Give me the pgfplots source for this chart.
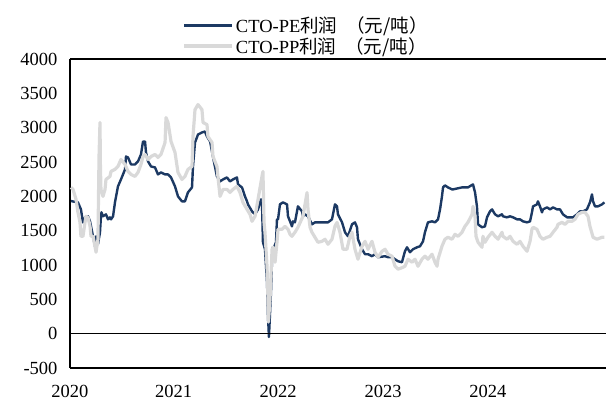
\documentclass[border=0pt]{standalone}
\usepackage{pgfplots}
\usepackage{pgfplotstable}
\pgfplotsset{compat=1.18}
\usepackage{fontspec}
\setmainfont{Liberation Serif}
\newfontfamily\cjk{Noto Sans CJK SC}
\definecolor{navy}{RGB}{28,57,99}
\definecolor{lgray}{RGB}{217,217,217}

\pgfplotstableread{
x y
2020.000 1931
2020.065 1912
2020.093 1810
2020.112 1620
2020.131 1690
2020.159 1709
2020.178 1636
2020.187 1563
2020.206 1418
2020.224 1273
2020.234 1418
2020.252 1302
2020.271 1476
2020.280 1709
2020.285 1767
2020.299 1709
2020.327 1738
2020.346 1665
2020.364 1694
2020.374 1665
2020.393 1709
2020.411 1912
2020.439 2145
2020.467 2246
2020.505 2392
2020.514 2580
2020.533 2566
2020.561 2464
2020.598 2464
2020.626 2508
2020.654 2610
2020.673 2798
2020.692 2798
2020.701 2639
2020.720 2508
2020.748 2435
2020.785 2421
2020.813 2319
2020.841 2348
2020.879 2319
2020.907 2319
2020.935 2275
2020.972 2145
2021.000 1999
2021.037 1927
2021.065 1927
2021.093 2057
2021.131 2130
2021.140 2435
2021.159 2784
2021.187 2900
2021.224 2930
2021.252 2944
2021.271 2871
2021.300 2800
2021.330 2550
2021.364 2290
2021.393 2217
2021.421 2246
2021.458 2275
2021.486 2217
2021.514 2246
2021.551 2275
2021.561 2174
2021.598 2130
2021.626 1999
2021.645 1927
2021.654 1883
2021.692 1781
2021.720 1738
2021.748 1810
2021.776 1956
2021.785 1912
2021.794 1331
2021.813 1229
2021.832 750
2021.841 256
2021.850 -49
2021.869 605
2021.879 1084
2021.885 1258
2021.897 1258
2021.916 1331
2021.925 1665
2021.935 1665
2021.953 1883
2021.981 1912
2022.019 1883
2022.028 1709
2022.047 1636
2022.065 1563
2022.075 1636
2022.093 1621
2022.121 1854
2022.159 1781
2022.168 1709
2022.187 1738
2022.215 1709
2022.252 1592
2022.280 1621
2022.346 1621
2022.402 1621
2022.439 1665
2022.467 1883
2022.486 1854
2022.495 1738
2022.533 1621
2022.561 1476
2022.589 1418
2022.626 1592
2022.654 1621
2022.673 1549
2022.682 1375
2022.720 1229
2022.748 1157
2022.776 1157
2022.813 1128
2022.841 1157
2022.869 1113
2022.935 1128
2022.963 1113
2023.000 1113
2023.028 1084
2023.056 1055
2023.093 1040
2023.121 1200
2023.140 1258
2023.168 1186
2023.196 1229
2023.234 1258
2023.262 1273
2023.290 1345
2023.308 1476
2023.336 1621
2023.374 1636
2023.402 1621
2023.430 1665
2023.449 1810
2023.467 1999
2023.477 2130
2023.495 2159
2023.523 2130
2023.561 2101
2023.570 2101
2023.654 2130
2023.710 2130
2023.757 2174
2023.776 2057
2023.794 1854
2023.804 1592
2023.841 1549
2023.869 1563
2023.888 1694
2023.916 1781
2023.935 1810
2023.963 1738
2023.991 1709
2024.028 1738
2024.037 1709
2024.075 1694
2024.103 1709
2024.131 1694
2024.168 1665
2024.196 1665
2024.224 1636
2024.262 1621
2024.290 1636
2024.308 1767
2024.318 1854
2024.355 1883
2024.364 1927
2024.383 1854
2024.402 1767
2024.411 1810
2024.449 1839
2024.477 1810
2024.505 1839
2024.542 1810
2024.570 1810
2024.598 1738
2024.636 1694
2024.664 1694
2024.692 1694
2024.729 1738
2024.757 1781
2024.785 1781
2024.822 1810
2024.850 1912
2024.869 2028
2024.879 1927
2024.897 1854
2024.925 1854
2024.963 1883
2024.985 1912
}\pe

\pgfplotstableread{
x y
2020.000 2130
2020.019 2101
2020.047 1956
2020.065 1767
2020.084 1621
2020.093 1418
2020.112 1418
2020.131 1621
2020.140 1709
2020.159 1694
2020.178 1563
2020.187 1418
2020.206 1418
2020.224 1273
2020.234 1186
2020.252 1375
2020.262 2580
2020.271 3075
2020.275 2435
2020.280 2101
2020.299 1999
2020.318 2101
2020.327 2246
2020.364 2290
2020.374 2363
2020.411 2392
2020.439 2435
2020.467 2537
2020.505 2464
2020.533 2363
2020.561 2319
2020.598 2290
2020.626 2348
2020.654 2464
2020.673 2580
2020.692 2610
2020.720 2537
2020.748 2580
2020.785 2610
2020.813 2566
2020.841 2610
2020.879 2784
2020.888 3147
2020.907 3075
2020.935 2798
2020.972 2639
2021.000 2348
2021.037 2246
2021.065 2290
2021.093 2392
2021.131 2435
2021.140 2871
2021.159 3263
2021.187 3336
2021.224 3263
2021.234 3075
2021.271 3045
2021.280 2871
2021.318 2784
2021.327 2580
2021.364 2435
2021.374 2275
2021.393 1999
2021.421 2101
2021.458 2101
2021.486 2057
2021.514 2101
2021.551 2145
2021.579 2057
2021.607 1912
2021.645 1810
2021.673 1738
2021.692 1636
2021.720 1709
2021.748 1956
2021.785 2290
2021.794 2363
2021.804 1621
2021.813 1475
2021.832 982
2021.841 503
2021.845 169
2021.860 503
2021.879 1229
2021.888 1258
2021.907 1040
2021.925 1331
2021.935 1520
2021.972 1520
2022.000 1563
2022.028 1520
2022.047 1447
2022.065 1418
2022.093 1476
2022.121 1549
2022.168 1709
2022.206 2055
2022.215 1810
2022.234 1549
2022.252 1476
2022.280 1404
2022.308 1331
2022.346 1345
2022.374 1375
2022.402 1302
2022.439 1375
2022.467 1563
2022.486 1621
2022.514 1476
2022.542 1229
2022.579 1229
2022.607 1418
2022.626 1476
2022.654 1229
2022.682 1084
2022.720 1273
2022.748 1345
2022.776 1229
2022.813 1345
2022.841 1186
2022.869 1113
2022.907 1200
2022.935 1229
2022.963 1157
2023.000 1128
2023.028 982
2023.056 939
2023.093 960
2023.121 982
2023.150 1084
2023.187 1040
2023.215 1084
2023.243 982
2023.280 1084
2023.308 1128
2023.336 1084
2023.374 1157
2023.402 1040
2023.421 982
2023.430 1084
2023.467 1273
2023.495 1375
2023.523 1404
2023.561 1375
2023.589 1447
2023.617 1418
2023.654 1476
2023.682 1563
2023.710 1621
2023.748 1738
2023.757 1854
2023.776 1709
2023.785 1418
2023.804 1331
2023.841 1258
2023.850 1418
2023.869 1331
2023.897 1404
2023.935 1476
2023.963 1418
2023.991 1375
2024.028 1476
2024.037 1418
2024.075 1375
2024.103 1418
2024.131 1345
2024.168 1302
2024.196 1345
2024.224 1273
2024.262 1200
2024.290 1345
2024.308 1520
2024.318 1549
2024.355 1520
2024.383 1418
2024.411 1375
2024.449 1404
2024.477 1418
2024.505 1476
2024.542 1549
2024.551 1592
2024.589 1621
2024.617 1592
2024.645 1636
2024.682 1636
2024.710 1665
2024.738 1738
2024.776 1767
2024.804 1767
2024.832 1709
2024.850 1563
2024.879 1404
2024.916 1375
2024.963 1404
2024.985 1404
}\pp

\begin{document}
\begin{tikzpicture}[x=1pt,y=1pt]
\begin{axis}[
  at={(70pt,36pt)}, anchor=south west,
  width=536pt, height=309pt, scale only axis,
  xmin=2019.9907, xmax=2025.0,
  ymin=-500, ymax=4000,
  axis y line*=left, axis x line*=bottom,
  axis line style={line width=1.6pt, black, -},
  xtick={2019.9907,2020.958,2021.935,2022.916,2023.897},
  xticklabels={2020,2021,2022,2023,2024},
  ytick={-500,0,500,1000,1500,2000,2500,3000,3500,4000},
  major tick length=0pt,
  /pgf/number format/assume math mode=true,
  /pgf/number format/1000 sep={},
  tick label style={font=\fontsize{18.5}{20}\selectfont},
  yticklabel style={xshift=-9pt},
  xticklabel style={yshift=-14pt},
  legend style={at={(axis description cs:0.2100,1.143)}, anchor=north west,
    draw=none, fill=none, inner sep=0pt, row sep=-1pt,
    font=\fontsize{18.5}{20}\selectfont},
  legend cell align=left,
  legend image code/.code={\draw[#1] (0pt,0pt) -- (48pt,0pt);},
  clip=false,
]
\addplot[navy, line width=2.4pt, line join=round] table {\pe};
\addlegendentry{CTO-PE{\cjk 利润\hspace{9pt}（元/吨）}}
\addplot[lgray, line width=3.2pt, line join=round] table {\pp};
\addlegendentry{CTO-PP{\cjk 利润\hspace{9pt}（元/吨）}}
\draw[black, line width=1.3pt] (axis cs:2019.9907,0) -- (axis cs:2025,0);
\draw[black, line width=1.6pt] (rel axis cs:0,1) -- (rel axis cs:1,1);
\end{axis}
\pgfresetboundingbox
\path (0,0) rectangle (606,404);
\end{tikzpicture}
\end{document}
